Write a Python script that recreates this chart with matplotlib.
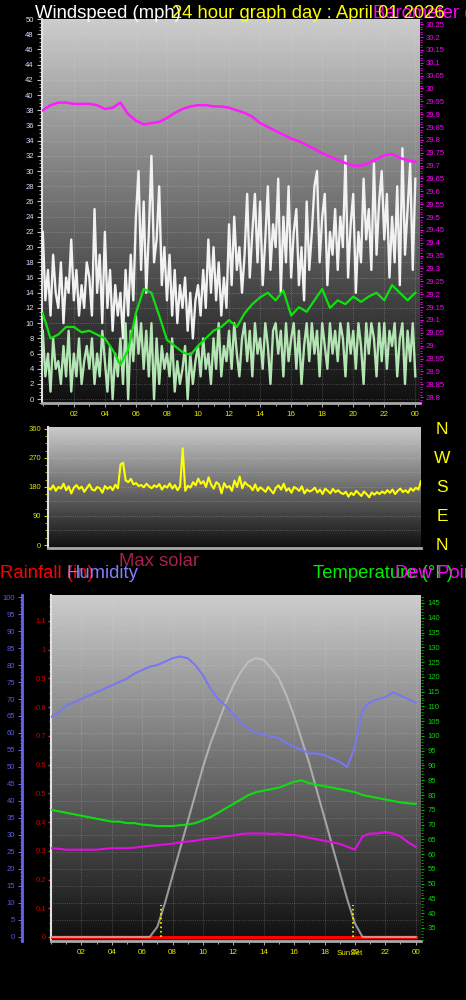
import numpy as np
import matplotlib
matplotlib.use('Agg')
import matplotlib.pyplot as plt
from matplotlib.ticker import MultipleLocator, FixedLocator, FuncFormatter

plt.rcParams['font.family'] = ['Liberation Sans', 'DejaVu Sans']

# ---------------- data ----------------
hour_ticks = [2, 4, 6, 8, 10, 12, 14, 16, 18, 20, 22, 24]
hour_labels = ['02', '04', '06', '08', '10', '12', '14', '16', '18', '20', '22', '00']

t10 = np.arange(145) / 6.0   # 10-minute samples
t30 = np.arange(49) / 2.0    # 30-minute samples

wind_gust = [
    22, 13, 17, 11, 19, 14,  12, 18, 10, 16, 14, 21,  13, 17, 11, 15, 12, 18,
    16, 11, 25, 14, 19, 10,  22, 12, 17, 9, 15, 11,   14, 8, 17, 11, 19, 13,
    24, 30, 17, 26, 14, 22,  32, 18, 21, 28, 15, 20,  13, 19, 11, 17, 10, 15,
    12, 16, 9, 14, 8, 13,    15, 11, 17, 12, 21, 14,  20, 13, 18, 11, 16, 12,
    23, 15, 24, 17, 20, 14,  19, 27, 16, 22, 27, 18,  26, 15, 21, 28, 17, 23,
    20, 29, 14, 24, 18, 28,  16, 22, 25, 15, 20, 13,  26, 17, 22, 28, 30, 18,
    24, 27, 15, 22, 19, 25,  17, 24, 20, 32, 16, 23,  27, 14, 22, 18, 29, 21,
    25, 17, 31, 19, 26, 30,  21, 27, 16, 24, 18, 28,  15, 33, 19, 25, 31, 17,
    29]

wind_speed = [
    9, 3, 6, 1, 8, 4,    5, 2, 7, 3, 9, 1,    6, 3, 8, 2, 5, 7,
    4, 8, 2, 6, 3, 9,    5, 1, 7, 0, 6, 3,    8, 2, 10, 0, 9, 5,
    11, 6, 10, 4, 9, 3,  10, 0, 8, 2, 7, 4,   6, 3, 8, 1, 5, 2,
    4, 7, 0, 6, 2, 5,    7, 3, 8, 4, 6, 2,    8, 4, 10, 3, 7, 5,
    9, 4, 10, 6, 3, 8,   10, 5, 9, 3, 10, 6,  8, 4, 10, 7, 2, 9,
    10, 6, 9, 3, 10, 5,  8, 10, 4, 9, 2, 7,   10, 5, 10, 6, 9, 3,
    10, 7, 4, 10, 6, 9,  5, 10, 8, 3, 10, 6,  9, 4, 10, 7, 2, 10,
    6, 10, 8, 3, 10, 5,  10, 4, 9, 7, 10, 3,  8, 10, 2, 9, 5, 10,
    3]

wind_avg = [11.3, 8.0, 8.5, 9.5, 9.5, 8.8, 9.0, 8.5, 8.0, 6.5, 4.5, 6.5,
            11.3, 14.5, 14.0, 11.0, 7.8, 7.0, 6.2, 5.8, 7.0, 8.0, 9.0, 9.5,
            10.4, 9.5, 11.3, 12.5, 13.4, 14.0, 13.0, 14.3, 11.0, 12.1, 11.5, 13.0,
            14.5, 12.0, 13.0, 12.5, 13.5, 12.8, 13.5, 14.0, 13.0, 15.0, 14.0, 13.0,
            14.0]

barometer = [29.915, 29.935, 29.945, 29.945, 29.94, 29.94, 29.94, 29.935, 29.92,
             29.925, 29.945, 29.90, 29.875, 29.86, 29.865, 29.87, 29.885, 29.905,
             29.92, 29.93, 29.935, 29.935, 29.93, 29.93, 29.925, 29.915, 29.905,
             29.89, 29.865, 29.85, 29.835, 29.82, 29.805, 29.795, 29.78, 29.765,
             29.748, 29.735, 29.722, 29.71, 29.70, 29.70, 29.71, 29.725, 29.74,
             29.745, 29.73, 29.72, 29.715]

wind_dir = [
    178, 172, 185, 168, 180, 175,  190, 170, 182, 160, 178, 186,  174, 181, 165, 177, 188, 172,
    169, 180, 176, 162, 183, 174,  181, 170, 187, 176, 250, 255,  200, 195, 205, 188, 192, 183,
    186, 179, 190, 182, 176, 185,  180, 189, 172, 184, 178, 191,  175, 186, 170, 182, 300, 168,
    184, 178, 195, 185, 206, 190,  198, 180, 210, 187, 175, 195,  188, 160, 192, 178, 183, 168,
    200, 180, 212, 176, 195, 186,  182, 170, 188, 168, 179, 172,  165, 180, 170, 160, 178, 185,
    172, 190, 168, 176, 162, 180,  175, 168, 182, 160, 172, 166,  170, 178, 163, 172, 158, 175,
    168, 160, 174, 164, 170, 162,  158, 165, 150, 162, 155, 168,  160, 152, 166, 158, 148, 163,
    156, 164, 158, 166, 160, 170,  162, 172, 158, 168, 175, 164,  170, 162, 176, 168, 178, 172,
    198]
compass = ['N', 'W', 'S', 'E', 'N']

humidity = [64.7, 66, 68, 69, 70, 71, 72, 73, 74, 75, 76, 77.5, 78.5, 79.5, 80, 81,
            82, 82.5, 82, 80, 77, 73, 70, 68, 65.5, 63, 61, 60, 59.5, 59, 58.5, 57,
            56, 55, 54, 54, 53.5, 52.5, 51.5, 50, 56, 67, 69, 70, 70.5, 72, 71, 70, 69]

temperature = [75, 74.5, 74, 73.5, 73, 72.5, 72, 71.5, 71, 71, 70.5, 70.5, 70, 69.8,
               69.5, 69.5, 69.5, 69.8, 70, 70.5, 71.5, 72.5, 74, 75.5, 77, 78.5, 80,
               81, 81.5, 82, 82.5, 83.5, 84.5, 85, 84, 83.5, 83, 82.5, 82, 81.5, 81,
               80, 79.5, 79, 78.5, 78, 77.5, 77.2, 77]

dew_point = [62, 61.8, 61.5, 61.5, 61.5, 61.5, 61.5, 61.8, 62, 62, 62, 62.2, 62.5,
             62.8, 63, 63.3, 63.5, 64, 64.3, 64.5, 65, 65.3, 65.5, 66, 66.3, 66.8, 67,
             67, 67, 66.8, 67, 66.5, 66.5, 66, 65.5, 65, 64.5, 64, 63.5, 62.5, 61.5,
             66, 67, 67, 67.5, 67, 66, 64, 62.5]

max_solar = [0, 0, 0, 0, 0, 0, 0, 0, 0, 0, 0, 0, 0, 0, 3, 10, 18, 26, 34, 42, 50,
             57, 63, 69, 74, 78, 81, 82, 81.5, 79, 76, 71, 65, 58, 51, 43, 35, 27,
             19, 11, 4, 0, 0, 0, 0, 0, 0, 0, 0]

rainfall = [0.0] * 49

sun_events = [7.27, 19.86]

# ---------------- figure ----------------
W, H = 466, 1000
fig = plt.figure(figsize=(W / 100, H / 100), dpi=100, facecolor='black')


def rect(x0, y0, x1, y1):
    return [x0 / W, 1 - y1 / H, (x1 - x0) / W, (y1 - y0) / H]


def ftxt(x, y, s, **kw):
    fig.text(x / W, 1 - y / H, s, va='baseline', ha='left', **kw)


def gradient(ax):
    g = np.linspace(0.06, 0.80, 256).reshape(-1, 1)
    ax.set_facecolor('black')
    ax.imshow(g, cmap='gray', vmin=0, vmax=1, aspect='auto', extent=[0, 1, 0, 1],
              transform=ax.transAxes, origin='lower', zorder=0, interpolation='bilinear')


def frame(ax):
    for s in ['top', 'right']:
        ax.spines[s].set_visible(False)
    ax.spines['left'].set_color('#e0e0e0')
    ax.spines['left'].set_linewidth(1.5)
    ax.spines['bottom'].set_color('#a8a8a8')
    ax.spines['bottom'].set_linewidth(2)


def hour_axis(ax):
    ax.xaxis.set_major_locator(FixedLocator(hour_ticks))
    ax.xaxis.set_minor_locator(MultipleLocator(1))
    ax.set_xticklabels(hour_labels)
    ax.tick_params(axis='x', which='major', colors='#a0a0a0', labelcolor='#e8e800',
                   labelsize=5.8, length=3, width=0.8, pad=3)
    ax.tick_params(axis='x', which='minor', colors='#a0a0a0', length=2, width=0.8)


trim = FuncFormatter(lambda v, p: ('%.2f' % v).rstrip('0').rstrip('.'))

# ---------- top chart: wind speed + barometer ----------
ax1 = fig.add_axes(rect(42, 19, 420, 403))
gradient(ax1)
frame(ax1)
ax1.plot(t10, wind_gust, color='#f2f2f2', lw=1.7, zorder=3)
ax1.plot(t10, wind_speed, color='#b4e6b4', lw=1.7, zorder=4)
ax1.plot(t30, wind_avg, color='#10e010', lw=1.6, zorder=5)
ax1.set_xlim(-0.05, 24.3)
ax1.set_ylim(-0.5, 50)
ax1.yaxis.set_major_locator(MultipleLocator(2))
ax1.yaxis.set_minor_locator(MultipleLocator(0.5))
ax1.tick_params(axis='y', which='major', colors='#c0c0c0', labelcolor='#d4deff',
                labelsize=5.5, length=3.5, width=0.8, pad=2.5)
ax1.tick_params(axis='y', which='minor', colors='#c0c0c0', length=2, width=0.6)
hour_axis(ax1)
ax1.grid(True, which='major', color='#e0e0e0', linestyle=':', linewidth=0.6, alpha=0.35)

ax1b = ax1.twinx()
for s in ax1b.spines.values():
    s.set_visible(False)
ax1b.plot(t30, barometer, color='#ff1aff', lw=1.8, zorder=6)
ax1b.set_ylim(28.777, 30.27)
ax1b.yaxis.set_major_locator(MultipleLocator(0.05))
ax1b.yaxis.set_minor_locator(MultipleLocator(0.01))
ax1b.yaxis.set_major_formatter(trim)
ax1b.tick_params(axis='y', which='major', colors='#ff00ff', labelcolor='#ff00ff',
                 labelsize=5.5, length=2.5, width=0.8, pad=1.5)
ax1b.tick_params(axis='y', which='minor', colors='#ff00ff', length=1.5, width=0.6)

# ---------- middle chart: wind direction ----------
ax2 = fig.add_axes(rect(48, 427, 421, 548))
gradient(ax2)
frame(ax2)
ax2.plot(t10, wind_dir, color='#ffff00', lw=1.5, zorder=3)
ax2.set_xlim(0, 24)
ax2.set_ylim(-9.3, 366)
ax2.yaxis.set_major_locator(FixedLocator([0, 90, 180, 270, 360]))
ax2.yaxis.set_minor_locator(MultipleLocator(22.5))
ax2.tick_params(axis='y', which='major', colors='#c8d800', labelcolor='#d8e400',
                labelsize=5.5, length=3, width=0.8, pad=2)
ax2.tick_params(axis='y', which='minor', colors='#c8d800', length=2, width=0.6)
ax2.set_xticks([])
for gy in [45, 90, 135, 180, 225, 270, 315]:
    ax2.axhline(gy, color='#e0e0e0', linestyle=':', linewidth=0.6, alpha=0.35, zorder=1)

for i, d in enumerate(compass):
    fig.text(442 / W, 1 - (429 + i * 29.2) / H, d, color='#ffff00', fontsize=12.5,
             ha='center', va='center')

# ---------- bottom chart: rain / humidity / temperature ----------
ax3 = fig.add_axes(rect(51, 595, 421, 941))
gradient(ax3)
frame(ax3)
ax3.plot(t30, rainfall, color='#ff0000', lw=2.2, zorder=3)
ax3.set_xlim(0, 24.35)
ax3.set_ylim(-0.014, 1.19)
ax3.yaxis.set_major_locator(MultipleLocator(0.1))
ax3.yaxis.set_minor_locator(MultipleLocator(0.025))
ax3.yaxis.set_major_formatter(trim)
ax3.tick_params(axis='y', which='major', colors='#e03030', labelcolor='#d00000',
                labelsize=5.5, length=2.5, width=1.0, pad=1)
ax3.tick_params(axis='y', which='minor', colors='#e03030', length=1.5, width=1.0)
hour_axis(ax3)
ax3.grid(True, axis='x', which='major', color='#e0e0e0', linestyle=':', linewidth=0.6, alpha=0.35)

axH = ax3.twinx()
axH.set_ylim(-1.2, 100.6)
axH.yaxis.set_ticks_position('left')
axH.spines['left'].set_visible(True)
axH.spines['left'].set_position(('outward', 21))
axH.spines['left'].set_color('#6464f0')
axH.spines['left'].set_linewidth(2)
for s in ['right', 'top', 'bottom']:
    axH.spines[s].set_visible(False)
axH.yaxis.set_major_locator(MultipleLocator(5))
axH.yaxis.set_minor_locator(MultipleLocator(1))
axH.tick_params(axis='y', which='major', colors='#6464f0', labelcolor='#5a5ae8',
                labelsize=5.5, length=3, width=0.8, pad=2)
axH.tick_params(axis='y', which='minor', colors='#6464f0', length=1.8, width=0.6)
for gy in range(5, 100, 5):
    axH.axhline(gy, color='#e0e0e0', linestyle=':', linewidth=0.6, alpha=0.3, zorder=1)
axH.plot(t30, max_solar, color='#c8c8c8', lw=1.5, alpha=0.7, zorder=3)
axH.plot(t30, humidity, color='#7878f0', lw=1.5, zorder=4)
for se in sun_events:
    axH.plot([se, se], [0, 9.5], color='#ffff00', linestyle=':', lw=1.2, zorder=5)

axT = ax3.twinx()
for s in ['left', 'top', 'bottom', 'right']:
    axT.spines[s].set_visible(False)
axT.set_ylim(30.6, 147.7)
axT.yaxis.set_minor_locator(MultipleLocator(1))
axT.yaxis.set_major_locator(FixedLocator(np.arange(35, 146, 5)))
axT.tick_params(axis='y', which='major', colors='#00c000', labelcolor='#10d010',
                labelsize=5.5, length=2.5, width=0.8, pad=2.5)
axT.tick_params(axis='y', which='minor', colors='#00c000', length=1.5, width=0.6)
axT.plot(t30, temperature, color='#10dd10', lw=1.5, zorder=4)
axT.plot(t30, dew_point, color='#e010e0', lw=1.5, zorder=4)

ftxt(337, 955, 'SunSet', color='#e8e800', fontsize=5.8)

# ---------------- header texts ----------------
ftxt(35, 18, 'Windspeed (mph)', color='white', fontsize=13.3, zorder=1)
ftxt(373, 18, 'Barometer (inHg)', color='#ff00ff', fontsize=13.3, zorder=2)
ftxt(172, 18, '24 hour graph day : April 01 2026', color='#ffff00', fontsize=13.3, zorder=3)

ftxt(119, 566, 'Max solar', color='#a8204c', fontsize=13.3)
ftxt(0, 578, 'Rainfall (in)', color='#ff0000', fontsize=13.3, zorder=1)
ftxt(67, 578, 'Humidity', color='#8080ff', fontsize=13.3, zorder=2)
ftxt(313, 578, 'Temperature (°F)', color='#00ee00', fontsize=13.3, zorder=1)
ftxt(395, 578, 'Dew Point (°F)', color='#ff00ff', fontsize=13.3, zorder=2)

fig.savefig('out.png', dpi=100, facecolor='black')
